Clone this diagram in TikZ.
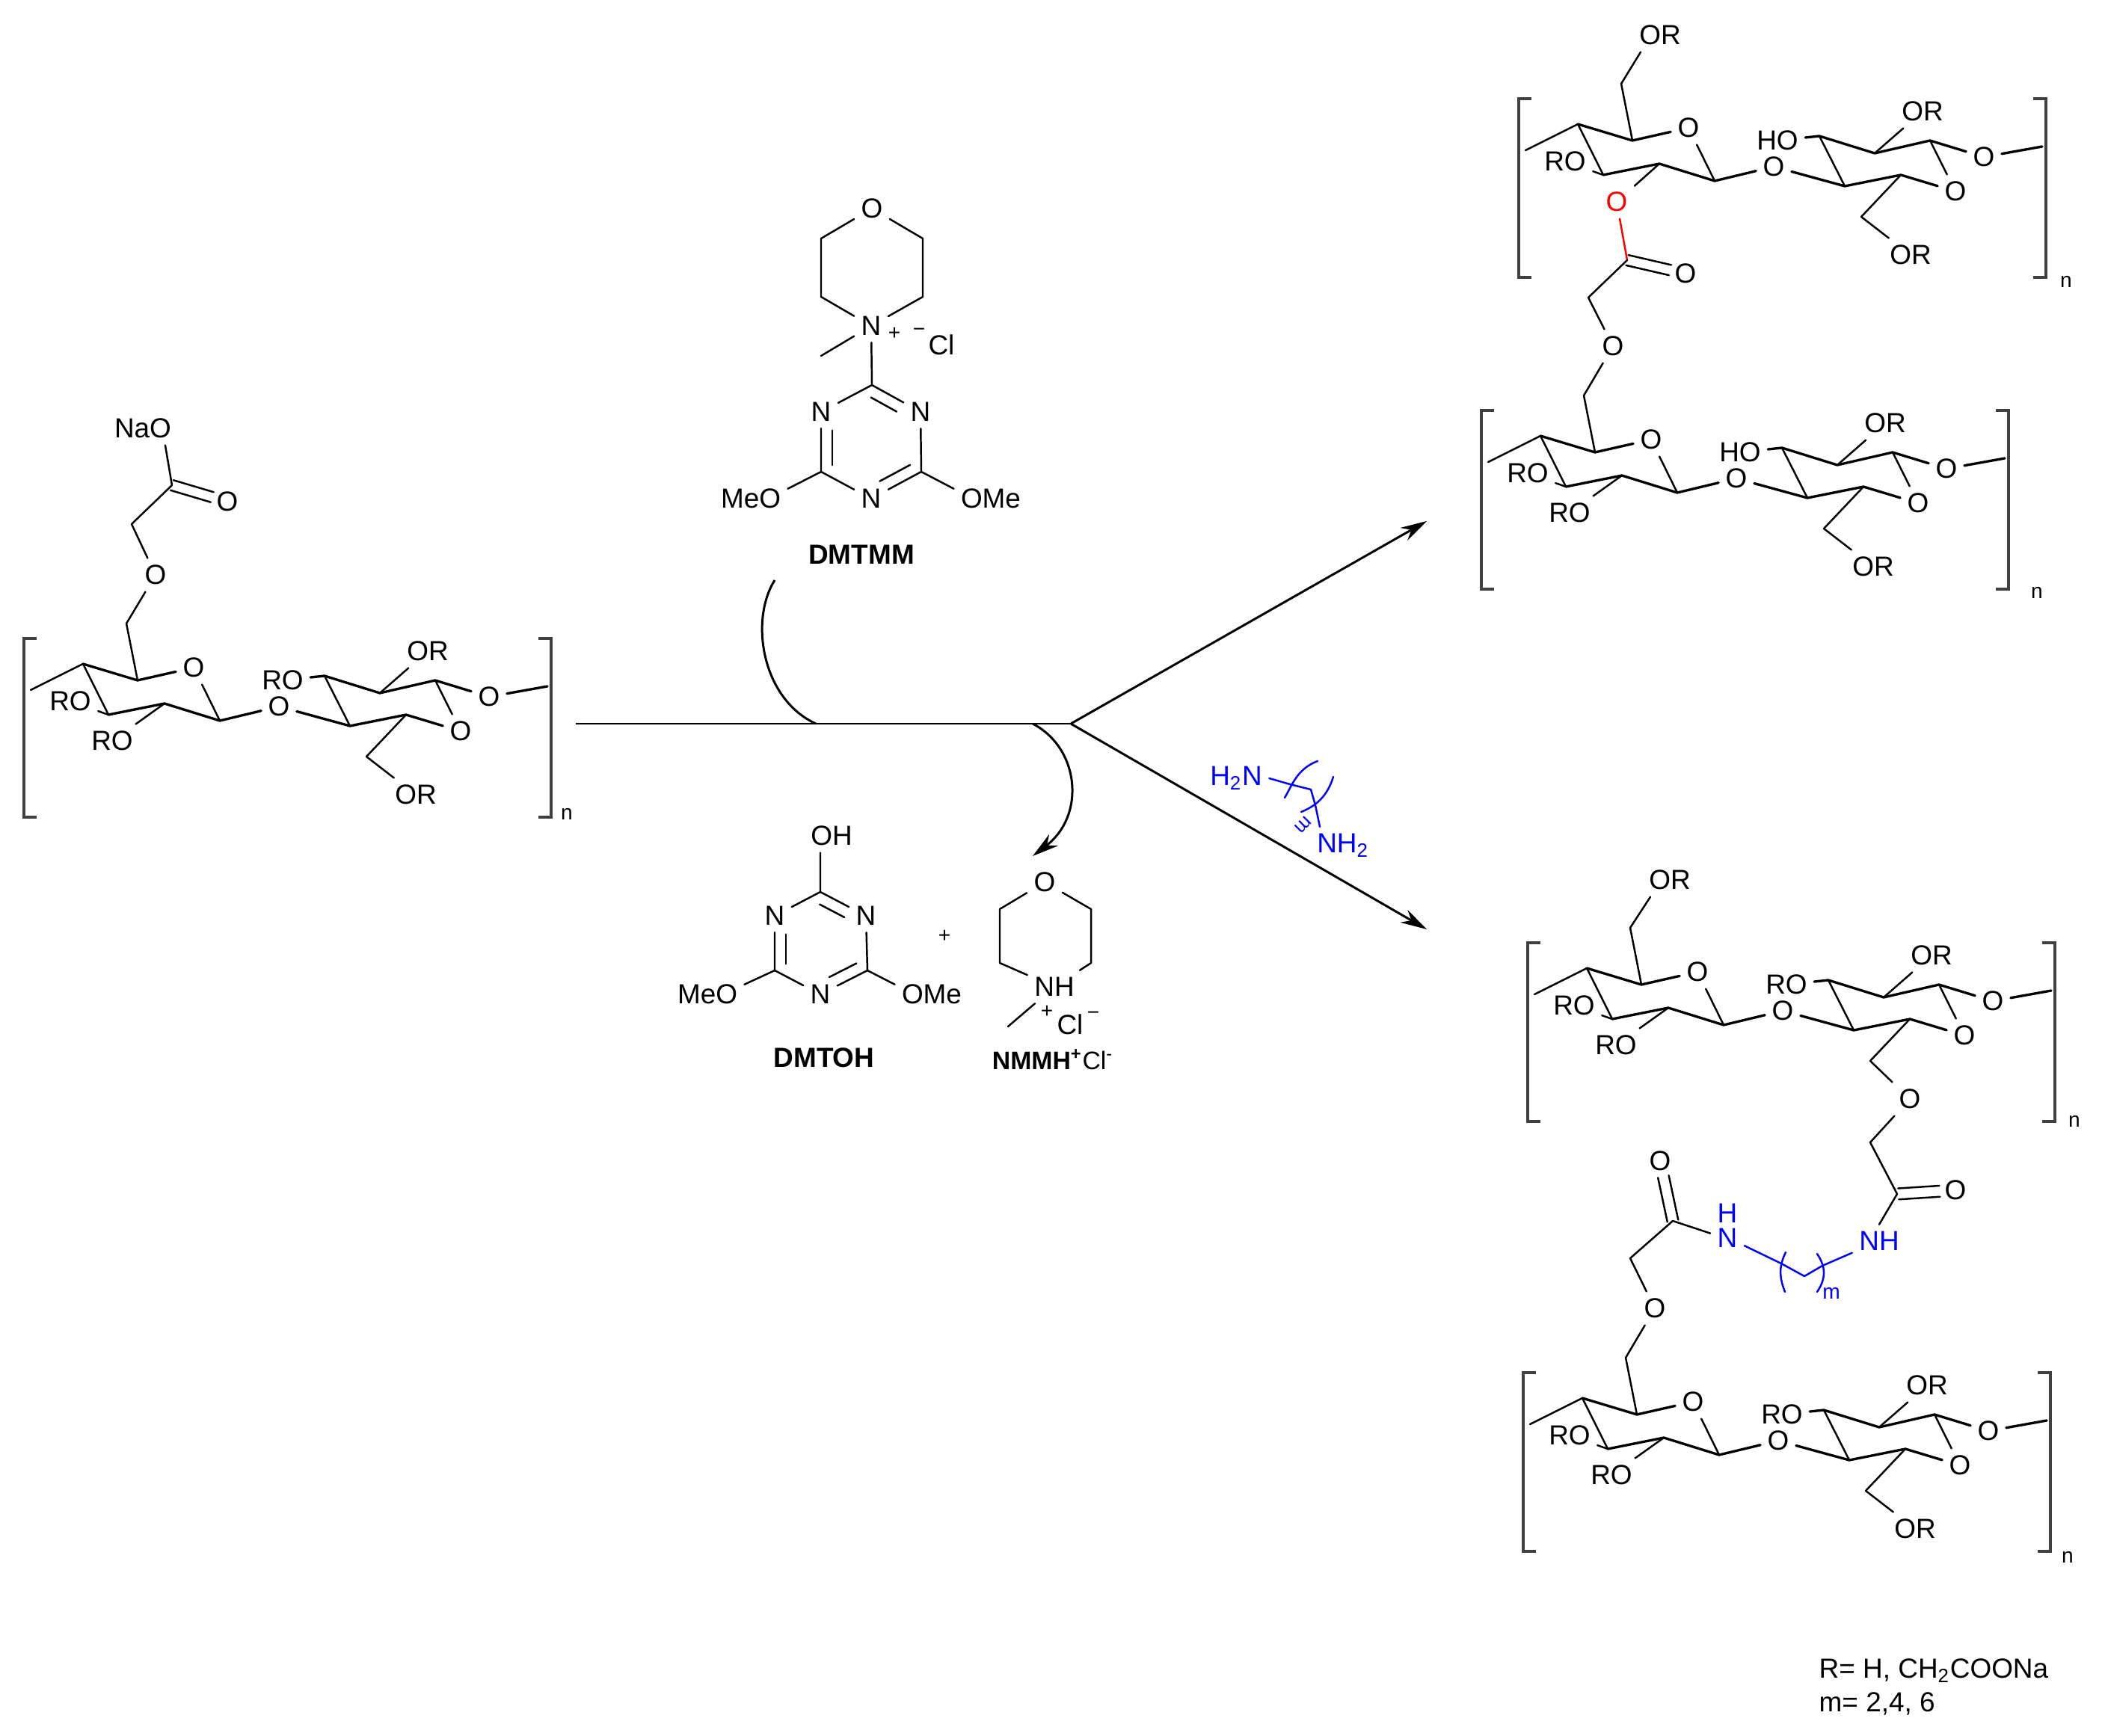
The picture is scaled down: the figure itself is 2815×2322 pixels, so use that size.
\documentclass[tikz,border=0pt]{standalone}
\usepackage{fontspec}
\setmainfont{Liberation Sans}
\usetikzlibrary{arrows.meta,calc,positioning}

\tikzset{
  atom/.style={font=\fontsize{10.5}{9.5}\selectfont,inner sep=2.5pt,align=center},
  smalltext/.style={font=\fontsize{8}{10}\selectfont,inner sep=1pt},
  titletext/.style={font=\fontsize{10.5}{12}\selectfont\bfseries,inner sep=1pt},
  bond/.style={line width=0.7pt,line join=round,line cap=round},
  frontbond/.style={line width=0.95pt,line join=round,line cap=round},
  bracketline/.style={line width=1pt,line join=miter,black!75},
  rxnline/.style={line width=0.85pt},
  rxnarrow/.style={line width=0.85pt,-{Stealth[length=10pt,width=5.5pt]}}
}

% parallel second stroke of a double bond
\newcommand{\sidebond}[6][]{\draw[bond,#1,shorten <=#5,shorten >=#6] ($(#2)!#4!90:(#3)$) -- ($(#3)!#4!-90:(#2)$);}

% repeating disaccharide unit: name, shift x, shift y, label on the second ring
\newcommand{\sugarunit}[4]{
\begin{scope}[shift={(#2,#3)},name prefix=#1]
\coordinate (a) at (41,923);
\coordinate (b) at (111,888);
\coordinate (c) at (184,910);
\coordinate (d) at (145,956);
\coordinate (e) at (220,941);
\coordinate (f) at (294,964);
\coordinate (g) at (468,971);
\coordinate (h) at (543,956);
\coordinate (i) at (582,910);
\coordinate (j) at (508,927);
\coordinate (k) at (434,904);
\coordinate (l) at (490,1012);
\coordinate (m) at (169,834);
\coordinate (stub) at (732,918);
\node[atom] (oa) at (259,893) {O};
\node[atom] (ob) at (373,945) {O};
\node[atom] (oc) at (616,978) {O};
\node[atom] (od) at (654,932) {O};
\node[atom] (rok) at (378,910) {#4};
\node[atom] (orj) at (572,871) {OR};
\node[atom] (rod) at (94,938) {RO};
\draw[bond] (a) -- (b) -- (d);
\draw[frontbond] (b) -- (c) -- (oa);
\draw[bond] (oa) -- (f);
\draw[frontbond] (d) -- (e) -- (f) -- (ob) -- (g) -- (h) -- (oc);
\draw[frontbond] (rok) -- (k) -- (j) -- (i) -- (od) -- (stub);
\draw[bond] (k) -- (g);
\draw[bond] (i) -- (oc);
\draw[bond] (j) -- (orj);
\draw[bond] (h) -- (l);
\draw[bond] (c) -- (m);
\draw[bond] (d) -- (rod);
\draw[bracketline] (49,854) -- (32,854) -- (32,1093) -- (49,1093);
\draw[bracketline] (720,854) -- (737,854) -- (737,1093) -- (720,1093);
\end{scope}}

\begin{document}
\begin{tikzpicture}[x=0.01cm,y=-0.01cm]
\path[use as bounding box] (0,0) rectangle (2815,2322);

% Starting polymer
\sugarunit{A}{0}{0}{RO}
\node[atom] (Arolow) at (150,991) {RO};
\node[atom] (Aorl) at (556,1063) {OR};
\node[smalltext] (An) at (758,1089) {n};
\node[atom] (Ao) at (208,769) {O};
\coordinate (Ach) at (176,701);
\coordinate (Aco) at (230,649);
\node[atom] (Anao) at (191,573) {NaO};
\node[atom] (Aoc) at (304,671) {O};
\draw[bond] (Ae) -- (Arolow);
\draw[bond] (Al) -- (Aorl);
\draw[bond] (Am) -- (Ao) -- (Ach) -- (Aco) -- (Anao.323);
\sidebond{Aco}{Aoc}{2pt}{0pt}{6pt}
\sidebond{Aco}{Aoc}{-2pt}{0pt}{6pt}

% Reaction arrows
\coordinate (rxnstart) at (770,968);
\coordinate (rxnfork) at (1432,968);
\coordinate (rxnjoin) at (1091,968);
\coordinate (rxnleave) at (1381,968);
\coordinate (tipup) at (1908,697);
\coordinate (tipdown) at (1908,1243);
\coordinate (dmtmmend) at (1036,776);
\coordinate (byprodtip) at (1381,1145);
\draw[rxnline] (rxnstart) -- (rxnfork);
\draw[rxnarrow] (rxnfork) -- (tipup);
\draw[rxnarrow] (rxnfork) -- (tipdown);
\draw[rxnline] (dmtmmend) .. controls (1002,830) and (1019,935) .. (rxnjoin);
\draw[rxnarrow] (rxnleave) .. controls (1443,1000) and (1453,1090) .. (byprodtip);

% DMTMM
\node[atom] (tmo) at (1166,279) {O};
\coordinate (tmul) at (1098,319);
\coordinate (tmur) at (1234,319);
\coordinate (tmll) at (1098,397);
\coordinate (tmlr) at (1234,397);
\node[atom] (tmn) at (1165,436) {N};
\coordinate (tmme) at (1098,476);
\node[smalltext] (tmplus) at (1196,446) {+};
\node[smalltext] (tmminus) at (1229,444) {−};
\node[atom] (tmcl) at (1259,461) {Cl};
\coordinate (tmct) at (1166,515);
\node[atom] (tmnl) at (1098,551) {N};
\node[atom] (tmnr) at (1231,551) {N};
\coordinate (tmcl2) at (1098,631);
\coordinate (tmcr) at (1232,631);
\node[atom] (tmnb) at (1165,667) {N};
\node[atom] (tmmeo) at (1004,667) {MeO};
\node[atom] (tmome) at (1325,667) {OMe};
\node[titletext] (tmname) at (1152,742) {DMTMM};
\draw[bond] (tmo) -- (tmul) -- (tmll) -- (tmn) -- (tmlr) -- (tmur) -- (tmo);
\draw[bond] (tmn) -- (tmme);
\draw[bond] (tmn) -- (tmct) -- (tmnl) -- (tmcl2) -- (tmnb) -- (tmcr) -- (tmnr) -- (tmct);
\draw[bond] (tmcl2) -- (tmmeo.15);
\draw[bond] (tmcr) -- (tmome.165);
\sidebond{tmct}{tmnr}{-4.3pt}{2pt}{8pt}
\sidebond{tmnl}{tmcl2}{4.3pt}{7pt}{2.5pt}
\sidebond{tmcr}{tmnb}{-4.3pt}{2.5pt}{6pt}

% DMTOH
\node[atom] (toh) at (1112,1118) {OH};
\coordinate (toct) at (1097,1193);
\node[atom] (tonl) at (1036,1225) {N};
\node[atom] (tonr) at (1158,1225) {N};
\coordinate (tocl) at (1036,1298);
\coordinate (tocr) at (1160,1298);
\node[atom] (tonb) at (1097,1330) {N};
\node[atom] (tomeo) at (946,1330) {MeO};
\node[atom] (toome) at (1246,1330) {OMe};
\node[titletext] (toname) at (1102,1415) {DMTOH};
\node[smalltext] (toplus) at (1263,1252) {+};
\draw[bond] (toh.south -| toct) -- (toct) -- (tonl) -- (tocl) -- (tonb) -- (tocr) -- (tonr) -- (toct);
\draw[bond] (tocl) -- (tomeo.15);
\draw[bond] (tocr) -- (toome.165);
\sidebond{toct}{tonr}{-4.3pt}{2pt}{7pt}
\sidebond{tonl}{tocl}{4.3pt}{7pt}{2.5pt}
\sidebond{tocr}{tonb}{-4.3pt}{2.5pt}{6pt}

% NMMH+Cl-
\node[atom] (nmo) at (1397,1180) {O};
\coordinate (nmul) at (1337,1216);
\coordinate (nmur) at (1459,1216);
\coordinate (nmll) at (1337,1288);
\coordinate (nmlr) at (1459,1288);
\node[atom] (nmn) at (1410,1320) {NH};
\coordinate (nmme) at (1348,1373);
\node[smalltext] (nmplus) at (1400,1353) {+};
\node[atom] (nmcl) at (1431,1370) {Cl};
\node[smalltext] (nmminus) at (1462,1358) {−};
\node[titletext,font=\fontsize{9.6}{10}\selectfont] (nmname) at (1408,1417) {\textbf{NMMH\textsuperscript{+}}Cl\textsuperscript{-}};
\draw[bond] (nmo) -- (nmul) -- (nmll) -- (nmn) -- (nmlr) -- (nmur) -- (nmo);
\draw[bond] (nmn) -- (nmme);

% Diamine reagent
\node[atom,blue] (dah) at (1653,1041) {H\textsubscript{2}N};
\coordinate (dab) at (1725,1049);
\coordinate (dac) at (1753,1056);
\coordinate (dad) at (1759,1077);
\node[atom,blue] (dan) at (1796,1131) {NH\textsubscript{2}};
\node[blue,smalltext,font=\fontsize{7.5}{8}\selectfont,rotate=-135] (dam) at (1743,1103) {m};
\draw[bond,blue] (dah.east) -- (dab) -- (dac) -- (dad) -- (dan.141);
\draw[bond,blue] (1762,1018) .. controls (1735,1028) and (1728,1050) .. (1718,1067);
\draw[bond,blue] (1783,1039) .. controls (1775,1065) and (1760,1078) .. (1740,1086);

% Ester crosslinked product
\sugarunit{B}{1999}{-722}{HO}
\sugarunit{C}{1949}{-305}{HO}
\node[atom] (Bor) at (2220,47) {OR};
\node[atom] (Borl) at (2555,341) {OR};
\node[smalltext] (Bn) at (2763,377) {n};
\node[atom,red] (Bored) at (2162,270) {O};
\coordinate (Bco) at (2176,348);
\node[atom] (Boc) at (2254,366) {O};
\coordinate (Bch) at (2124,398);
\node[atom] (Bo) at (2157,463) {O};
\node[atom] (Crolow) at (2099,686) {RO};
\node[atom] (Corl) at (2505,758) {OR};
\node[smalltext] (Cn) at (2724,793) {n};
\draw[bond] (Bm) -- (Bor.221);
\draw[bond] (Bl) -- (Borl);
\draw[bond] (Be) -- (Bored);
\draw[bond,red] (Bored) -- (Bco);
\draw[bond] (Bco) -- (Bch) -- (Bo) -- (Cm);
\sidebond{Bco}{Boc}{2pt}{0pt}{6pt}
\sidebond{Bco}{Boc}{-2pt}{0pt}{6pt}
\draw[bond] (Ce) -- (Crolow);
\draw[bond] (Cl) -- (Corl);

% Amide crosslinked product
\sugarunit{D}{2011}{407}{RO}
\sugarunit{E}{2005}{982}{RO}
\node[atom] (Dor) at (2233,1177) {OR};
\node[atom] (Drolow) at (2161,1398) {RO};
\node[smalltext] (Dn) at (2774,1500) {n};
\node[atom] (Do) at (2554,1470) {O};
\coordinate (Dch) at (2501,1528);
\coordinate (Dco) at (2537,1597);
\node[atom] (Doc) at (2615,1592) {O};
\node[atom,blue] (Dnh) at (2513,1660) {NH};
\coordinate (linkd) at (2437,1693);
\coordinate (linkc) at (2413,1707);
\coordinate (linkb) at (2382,1690);
\node[atom,blue] (Ehn) at (2310,1639) {H\\N};
\node[smalltext,blue] (linkm) at (2449,1730) {m};
\coordinate (Eco) at (2237,1633);
\node[atom] (Eoc) at (2220,1553) {O};
\coordinate (Ech) at (2180,1683);
\node[atom] (Eo) at (2213,1750) {O};
\node[atom] (Erolow) at (2155,1973) {RO};
\node[atom] (Eorl) at (2561,2045) {OR};
\node[smalltext] (En) at (2765,2083) {n};
\draw[bond] (Dm) -- (Dor.221);
\draw[bond] (De) -- (Drolow);
\draw[bond] (Dl) -- (Do) -- (Dch) -- (Dco) -- (Dnh.north);
\sidebond{Dco}{Doc}{2.1pt}{0.5pt}{6pt}
\sidebond{Dco}{Doc}{-2.1pt}{0.5pt}{6pt}
\draw[bond,blue] (Dnh) -- (linkd) -- (linkc) -- (linkb) -- (Ehn.-50);
\draw[bond,blue] (2388,1675) .. controls (2378,1695) and (2380,1710) .. (2387,1728);
\draw[bond,blue] (2430,1677) .. controls (2442,1695) and (2442,1710) .. (2430,1728);
\draw[bond] (Ehn.205) -- (Eco) -- (Ech) -- (Eo) -- (Em);
\sidebond{Eco}{Eoc}{2.1pt}{0pt}{6pt}
\sidebond{Eco}{Eoc}{-2.1pt}{0pt}{6pt}
\draw[bond] (Ee) -- (Erolow);
\draw[bond] (El) -- (Eorl);

% Legend
\node[atom,anchor=north west,align=left,inner sep=0pt,font=\fontsize{10.5}{12.8}\selectfont] (legend) at (2432,2218) {R= H, CH\textsubscript{2}COONa\\m= 2,4, 6};

\end{tikzpicture}
\end{document}
